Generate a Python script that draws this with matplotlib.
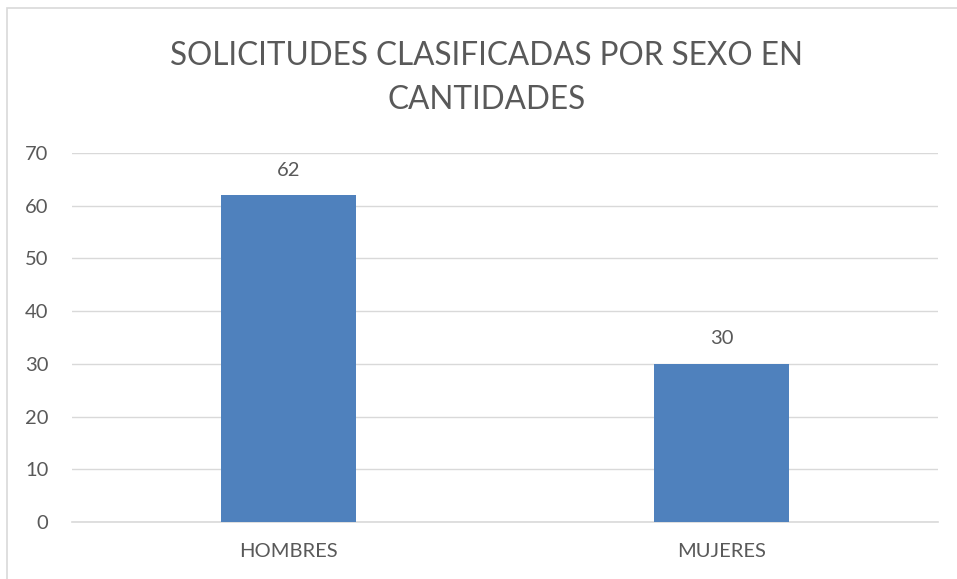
import matplotlib
matplotlib.use("Agg")
import matplotlib.pyplot as plt
from matplotlib.patches import Rectangle

categories = ["HOMBRES", "MUJERES"]
values = [62, 30]
yticks = [0, 10, 20, 30, 40, 50, 60, 70]
title = "SOLICITUDES CLASIFICADAS POR SEXO EN\nCANTIDADES"

plt.rcParams['font.family'] = ['Lato', 'DejaVu Sans']
txt = '#595959'
grid = '#D9D9D9'
bar_color = '#4F81BD'

fig = plt.figure(figsize=(9.57, 5.79), dpi=100)
fig.patches.append(Rectangle((7/957, -0.1), 1.2, (579-8)/579 + 0.1, transform=fig.transFigure,
                             fill=False, edgecolor='#D9D9D9', linewidth=1.2))
ax = fig.add_axes([72/957, (579-522)/579, (938-72)/957, (522-153)/579])

x = list(range(len(categories)))
bars = ax.bar(x, values, width=0.312, color=bar_color, zorder=3)
ax.set_xlim(-0.5, len(categories) - 0.5)
ax.set_ylim(0, 70)
ax.set_yticks(yticks)
ax.set_xticks(x)
ax.set_xticklabels(categories)
ax.grid(axis='y', color=grid, linewidth=1, zorder=0)
for s in ['top', 'right', 'left']:
    ax.spines[s].set_visible(False)
ax.spines['bottom'].set_color(grid)
ax.spines['bottom'].set_linewidth(1.2)
ax.tick_params(axis='both', length=0, labelsize=14.5, colors=txt)
ax.tick_params(axis='y', pad=17)
ax.tick_params(axis='x', pad=15)

for xi, v in zip(x, values):
    ax.annotate(str(v), (xi, v), xytext=(0, 18), textcoords='offset points',
                ha='center', va='center', fontsize=14.5, color=txt)

fig.text(487/957, 1 - 78/579, title, ha='center', va='center', fontsize=22.7,
         color=txt, linespacing=1.6)

fig.savefig('out.png', dpi=100)
